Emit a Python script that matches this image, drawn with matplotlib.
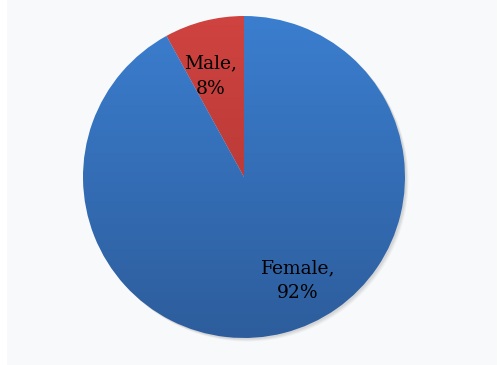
import numpy as np
import matplotlib
matplotlib.use("Agg")
import matplotlib.pyplot as plt
from matplotlib.colors import LinearSegmentedColormap
from matplotlib.patches import Circle, Rectangle

# data
labels = ["Male", "Female"]
shares = [8, 92]
top_colors = ["#cf4340", "#3b7ecf"]
bottom_colors = ["#a93330", "#2d5d9c"]

fig = plt.figure(figsize=(5, 3.65), dpi=100)
fig.patch.set_facecolor("white")
ax = fig.add_axes([0, 0, 1, 1])

# light panel behind the chart
ax.add_patch(Rectangle((7, 0), 490, 365, facecolor="#f8f9fb", edgecolor="none", zorder=0))

cx, cy, r = 244, 188, 161

# soft shadow
for i, a in enumerate([0.06, 0.05, 0.04]):
    ax.add_patch(Circle((cx + 1.5 + i, cy - 1.5 - i), r, facecolor="black",
                        alpha=a, edgecolor="none", zorder=1))

wedges, _ = ax.pie(shares, startangle=90, counterclock=True, center=(cx, cy),
                   radius=r, frame=True,
                   wedgeprops=dict(linewidth=0, edgecolor="none"))
ax.set_xlim(0, 500)
ax.set_ylim(0, 365)
ax.set_aspect("equal")
ax.axis("off")

# vertical gradient fill clipped to each wedge
grad = np.linspace(1, 0, 256).reshape(-1, 1)
for w, c0, c1 in zip(wedges, bottom_colors, top_colors):
    w.set_facecolor("none")
    w.set_zorder(2)
    cmap = LinearSegmentedColormap.from_list("g", [c0, c1])
    im = ax.imshow(grad, cmap=cmap, extent=(cx - r, cx + r, cy - r, cy + r),
                   aspect="auto", origin="upper", zorder=2, interpolation="bilinear")
    im.set_clip_path(w)

font = dict(family=["DejaVu Serif"], fontsize=13.5, color="black",
            ha="center", va="center", linespacing=1.5, zorder=5)
ax.text(211, 365 - 76, "%s,\n%d%%" % (labels[0], shares[0]), **font)
ax.text(298, 365 - 281, "%s,\n%d%%" % (labels[1], shares[1]), **font)

fig.savefig("out.png", dpi=100)
